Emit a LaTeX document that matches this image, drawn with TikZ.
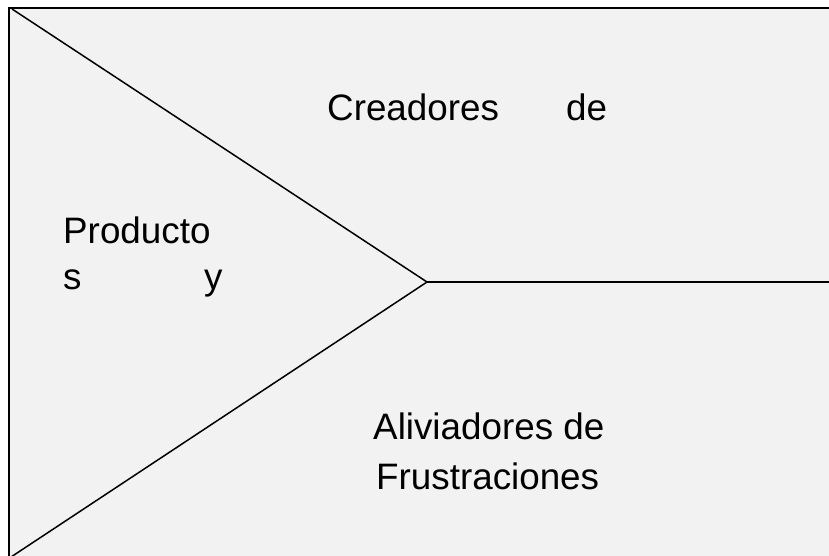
\documentclass[tikz,border=0pt]{standalone}
\usepackage{fontspec}
\setmainfont{Liberation Sans}
\definecolor{panel}{HTML}{F2F2F2}
\begin{document}
\begin{tikzpicture}[x=1pt,y=-1pt,
  lbl/.style={anchor=base west,inner sep=0pt,font=\fontsize{36.8}{42}\selectfont},
  edge/.style={line width=1.5pt,black}]
\useasboundingbox (0,0) rectangle (829,556);
\fill[white] (0,0) rectangle (829,556);
\fill[panel] (8.5,8) rectangle (840,570);
\draw[line width=2pt] (8.5,570) -- (8.5,8) -- (840,8);
\coordinate (tl) at (12,9);
\coordinate (apex) at (427,282);
\coordinate (bl) at (11,557);
\coordinate (rt) at (840,282);
\draw[edge] (tl) -- (apex) -- (bl);
\draw[edge] (apex) -- (rt);
\node[lbl] (c1) at (327,121) {Creadores};
\node[lbl] (c2) at (566,121) {de};
\node[lbl] (p1) at (63,243) {Producto};
\node[lbl] (p2) at (63,289) {s};
\node[lbl] (p3) at (204,289) {y};
\node[lbl] (a1) at (373,439) {Aliviadores de};
\node[lbl] (a2) at (376,489) {Frustraciones};
\end{tikzpicture}
\end{document}
